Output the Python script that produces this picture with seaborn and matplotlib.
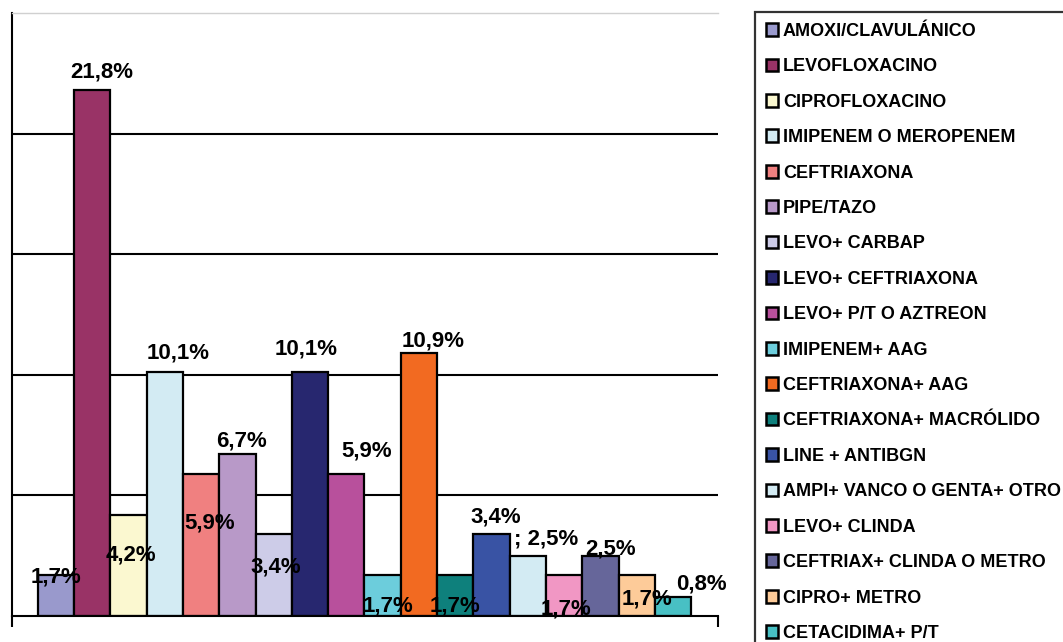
import pandas as pd
import matplotlib.pyplot as plt
import seaborn as sns
from matplotlib.patches import Patch

# Datos del gráfico (porcentaje de pacientes por esquema antibiótico)
farmacos = ['AMOXI/CLAVULÁNICO', 'LEVOFLOXACINO', 'CIPROFLOXACINO',
            'IMIPENEM O MEROPENEM', 'CEFTRIAXONA', 'PIPE/TAZO', 'LEVO+ CARBAP',
            'LEVO+ CEFTRIAXONA', 'LEVO+ P/T O AZTREON', 'IMIPENEM+ AAG',
            'CEFTRIAXONA+ AAG', 'CEFTRIAXONA+ MACRÓLIDO', 'LINE + ANTIBGN',
            'AMPI+ VANCO O GENTA+ OTRO', 'LEVO+ CLINDA',
            'CEFTRIAX+ CLINDA O METRO', 'CIPRO+ METRO', 'CETACIDIMA+ P/T']
porcentajes = [1.7, 21.8, 4.2, 10.1, 5.9, 6.7, 3.4, 10.1, 5.9, 1.7,
               10.9, 1.7, 3.4, 2.5, 1.7, 2.5, 1.7, 0.8]
etiquetas = ['1,7%', '21,8%', '4,2%', '10,1%', '5,9%', '6,7%', '3,4%', '10,1%',
             '5,9%', '1,7%', '10,9%', '1,7%', '3,4%', '; 2,5%', '1,7%', '2,5%',
             '1,7%', '0,8%']

colores = ['#9999cc', '#993366', '#fbf8d0', '#d3ebf3', '#f08080', '#b899c8',
           '#cdcce8', '#27276f', '#b8509c', '#6ccddc', '#f26a21', '#0e807c',
           '#3953a4', '#d3ebf3', '#f197c4', '#66669a', '#fdcb99', '#48c0c4']

# desplazamiento de cada etiqueta respecto a la punta de la barra (pixeles)
desplaz = [(0, -2), (10, 18), (2, -40), (13, 19), (9, -49), (4, 13), (2, -33),
           (-4, 23), (20, 23), (5, -31), (14, 12), (0, -31), (4, 17), (18, 17),
           (2, -34), (10, 7), (10, -24), (28, 13)]

df = pd.DataFrame({'farmaco': farmacos, 'valor': porcentajes})

sns.set_style('white')
plt.rcParams['font.family'] = ['Liberation Sans', 'DejaVu Sans']

fig = plt.figure(figsize=(10.63, 6.42), dpi=100)
ax = fig.add_axes([12 / 1063, 26 / 642, 706 / 1063, 603 / 642])

sns.barplot(data=df, x='farmaco', y='valor', hue='farmaco', palette=colores,
            saturation=1, width=1.0, edgecolor='black', linewidth=1.6,
            legend=False, ax=ax)

x0, x1 = -1.21, 18.24
ax.set_xlim(x0, x1)
ax.set_ylim(0, 25)
ax.set_yticks([5, 10, 15, 20])
ax.set_yticklabels([])
ax.yaxis.grid(True, color='black', linewidth=1.5)
ax.set_axisbelow(True)
ax.tick_params(axis='y', length=0)
ax.set_xticks([x0 + 0.01, x1 - 0.01])
ax.set_xticklabels([])
ax.tick_params(axis='x', direction='out', length=8, width=1.5, color='black',
               bottom=True)
ax.set_xlabel('')
ax.set_ylabel('')

for s in ['left', 'bottom']:
    ax.spines[s].set_color('black')
    ax.spines[s].set_linewidth(1.5)
ax.spines['top'].set_color('#d0d0d0')
ax.spines['top'].set_linewidth(1.0)
ax.spines['right'].set_visible(False)

for i, (txt, v) in enumerate(zip(etiquetas, porcentajes)):
    ax.annotate(txt, xy=(i, v), xytext=desplaz[i], textcoords='offset pixels',
                ha='center', va='center', fontsize=16, fontweight='bold',
                color='black', annotation_clip=False)

handles = [Patch(facecolor=c, edgecolor='black', linewidth=1.8) for c in colores]
leg = fig.legend(handles, farmacos, loc='upper left',
                 bbox_to_anchor=(755 / 1063, 1 - 12 / 642),
                 bbox_transform=fig.transFigure, borderaxespad=0,
                 prop={'size': 13, 'weight': 'bold'}, labelcolor='black',
                 frameon=True, fancybox=False, borderpad=0.6,
                 handlelength=0.7, handleheight=0.7, handletextpad=0.25,
                 labelspacing=1.02)
leg.get_frame().set_edgecolor('black')
leg.get_frame().set_linewidth(1.6)

fig.savefig('out.png', dpi=100)
